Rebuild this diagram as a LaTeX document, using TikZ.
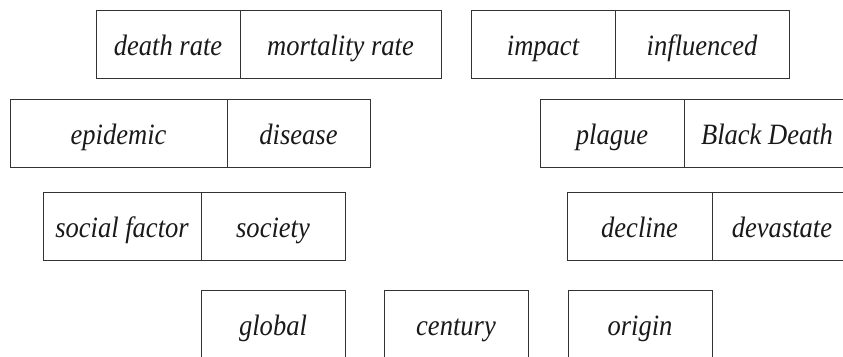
\documentclass[tikz,border=0pt]{standalone}
\usepackage{fontspec}
\newfontfamily\cellfont[FakeStretch=0.9]{Liberation Serif}
\begin{document}
\begin{tikzpicture}[x=1pt,y=-1pt,
  cell/.style={draw=black!80, line width=1pt, minimum height=68pt, inner sep=0pt, anchor=center,
    text height=23.4pt, text depth=0pt,
    font=\cellfont\fontsize{29.5}{33}\selectfont\itshape, text=black!90}]
\useasboundingbox (0,0) rectangle (843,356);
\clip (0,0) rectangle (843,356);
% row 1
\node[cell, minimum width=144pt] (deathrate) at (168,44) {death rate};
\node[cell, minimum width=201pt] (mortality) at (340.5,44) {mortality rate};
\node[cell, minimum width=144pt] (impact) at (543,44) {impact};
\node[cell, minimum width=174pt] (influenced) at (702,44) {influenced};
% row 2
\node[cell, minimum width=217pt] (epidemic) at (118.5,133) {epidemic};
\node[cell, minimum width=143pt] (disease) at (298.5,133) {disease};
\node[cell, minimum width=144pt] (plague) at (612,133) {plague};
\node[cell, minimum width=166pt] (blackdeath) at (767,133) {Black Death};
% row 3
\node[cell, minimum width=158pt] (social) at (122,226) {social factor};
\node[cell, minimum width=144pt] (society) at (273,226) {society};
\node[cell, minimum width=145pt] (decline) at (639.5,226) {decline};
\node[cell, minimum width=140pt] (devastate) at (782,226) {devastate};
% row 4
\node[cell, minimum width=144pt] (global) at (273,324) {global};
\node[cell, minimum width=144pt] (century) at (456,324) {century};
\node[cell, minimum width=144pt] (origin) at (640,324) {origin};
\end{tikzpicture}
\end{document}
